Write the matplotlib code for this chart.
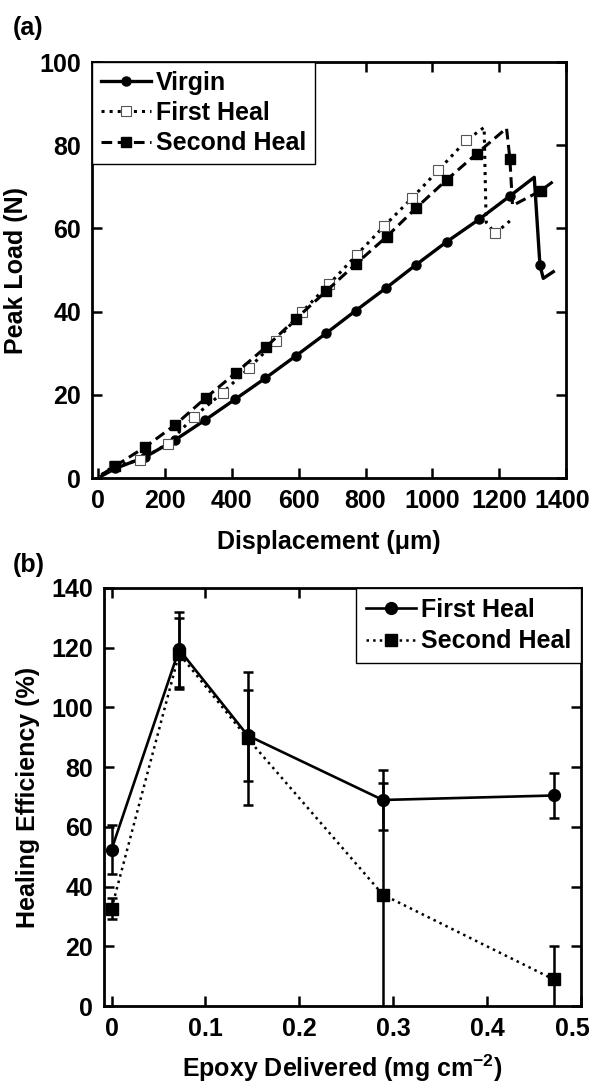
import numpy as np
import matplotlib
matplotlib.use('Agg')
import matplotlib.pyplot as plt
import matplotlib.transforms as mtransforms

plt.rcParams['font.family'] = ['Liberation Sans', 'DejaVu Sans']
plt.rcParams['font.weight'] = 'bold'
plt.rcParams['font.size'] = 18
plt.rcParams['mathtext.fontset'] = 'custom'
plt.rcParams['mathtext.rm'] = 'Liberation Sans:bold'
plt.rcParams['mathtext.bf'] = 'Liberation Sans:bold'
plt.rcParams['mathtext.default'] = 'rm'

# (a) load-displacement curves
virgin_x = [10, 51, 139, 229, 319, 409, 500, 592, 682, 770, 860, 950, 1043, 1140, 1232, 1305, 1322, 1332, 1362]
virgin_y = [0.5, 2.3, 5.0, 9.1, 13.9, 18.9, 24.0, 29.4, 34.8, 40.2, 45.6, 51.2, 56.8, 62.2, 67.8, 72.3, 51.2, 48.0, 49.6]
virgin_mk = list(range(1, 15)) + [16]

first_x = [10, 46, 125, 209, 286, 372, 452, 531, 609, 691, 773, 855, 939, 1018, 1102, 1155, 1161, 1188, 1232]
first_y = [0.8, 2.9, 4.3, 8.3, 14.7, 20.5, 26.5, 32.9, 39.9, 46.6, 53.6, 60.5, 67.3, 74.0, 81.2, 84.3, 61.5, 58.8, 61.8]
first_mk = list(range(1, 15)) + [17]

second_x = [10, 51, 141, 229, 322, 412, 502, 592, 682, 770, 863, 951, 1043, 1133, 1222, 1232, 1240, 1325, 1360]
second_y = [0.8, 2.9, 7.5, 12.7, 19.3, 25.3, 31.5, 38.3, 44.9, 51.4, 58.0, 64.9, 71.7, 78.0, 84.1, 76.8, 65.5, 69.1, 71.2]
second_mk = list(range(1, 14)) + [15, 17]

# (b) healing efficiency vs epoxy delivered
epoxy = [0, 0.072, 0.145, 0.289, 0.471]
heal1 = [52.4, 119.4, 90.6, 69.0, 70.5]
heal1_err = [8.2, 12.4, 15.3, 10.0, 7.7]
heal2 = [32.6, 118.0, 89.6, 37.3, 8.9]
heal2_err = [3.5, 12.0, 22.3, 37.5, 11.2]

fig = plt.figure(figsize=(5.91, 10.85), dpi=100)


def style_axes(ax, last_dx):
    for s in ax.spines.values():
        s.set_linewidth(2)
    ax.tick_params(direction='in', length=7, width=1.8, top=True, right=True, pad=8,
                   labelsize=18)
    for lab in ax.get_xticklabels() + ax.get_yticklabels():
        lab.set_fontweight('bold')
    # keep the last x label inside the figure, flush with the right edge
    last = ax.get_xticklabels()[-1]
    last.set_ha('right')
    last.set_transform(last.get_transform() +
                       mtransforms.ScaledTranslation(last_dx / 100, 0, fig.dpi_scale_trans))


ax1 = fig.add_axes([0.1557, 0.5594, 0.802, 0.3834])
ax1.plot(virgin_x, virgin_y, '-', color='black', lw=2.4, marker='o', ms=6.5,
         markevery=virgin_mk, label='Virgin')
ax1.plot(first_x, first_y, ':', color='black', lw=2.2, marker='s', ms=7,
         mfc='white', mec='#555555', mew=0.8, markevery=first_mk, label='First Heal')
ax1.plot(second_x, second_y, '--', color='black', lw=2.2, marker='s', ms=7.5,
         markevery=second_mk, dashes=(3.5, 1.8), label='Second Heal')
ax1.set_xlim(-18.6, 1400)
ax1.set_ylim(0, 100)
ax1.set_xticks(np.arange(0, 1401, 200))
ax1.set_yticks(np.arange(0, 101, 20))
ax1.set_xlabel('Displacement (\u03bcm)', fontweight='bold', labelpad=12)
ax1.set_ylabel('Peak Load (N)', fontweight='bold', labelpad=8)
style_axes(ax1, 24)
leg1 = ax1.legend(loc='upper left', borderaxespad=0, fancybox=False, framealpha=1,
                  edgecolor='black', handlelength=2.0, handletextpad=0.2,
                  labelspacing=0.25, borderpad=0.35, prop={'weight': 'bold', 'size': 18})
leg1.get_frame().set_linewidth(1.0)
fig.text(0.022, 0.974, '(a)', fontsize=18, fontweight='bold', va='center')

ax2 = fig.add_axes([0.176, 0.0728, 0.807, 0.3853])
ax2.errorbar(epoxy, heal1, yerr=heal1_err, fmt='none', ecolor='black',
             capsize=3.5, capthick=1.8, elinewidth=1.8)
ax2.errorbar(epoxy, heal2, yerr=heal2_err, fmt='none', ecolor='black',
             capsize=3.5, capthick=1.8, elinewidth=1.8)
ax2.plot(epoxy, heal1, '-', color='black', lw=1.9, marker='o', ms=8.5, label='First Heal')
ax2.plot(epoxy, heal2, ':', color='black', lw=1.8, marker='s', ms=9, label='Second Heal')
ax2.set_xlim(-0.008, 0.5)
ax2.set_ylim(0, 140)
ax2.set_xticks([0, 0.1, 0.2, 0.3, 0.4, 0.5])
ax2.set_xticklabels(['0', '0.1', '0.2', '0.3', '0.4', '0.5'])
ax2.set_yticks(np.arange(0, 141, 20))
ax2.set_xlabel('Epoxy Delivered (mg cm$^{-2}$)', fontweight='bold', labelpad=8)
ax2.set_ylabel('Healing Efficiency (%)', fontweight='bold', labelpad=8)
style_axes(ax2, 9)
leg2 = ax2.legend(loc='upper right', borderaxespad=0, fancybox=False, framealpha=1,
                  edgecolor='black', handlelength=2.0, handletextpad=0.2,
                  labelspacing=0.3, borderpad=0.4, prop={'weight': 'bold', 'size': 18})
leg2.get_frame().set_linewidth(1.0)
fig.text(0.022, 0.479, '(b)', fontsize=18, fontweight='bold', va='center')

fig.savefig('out.png', dpi=100)
